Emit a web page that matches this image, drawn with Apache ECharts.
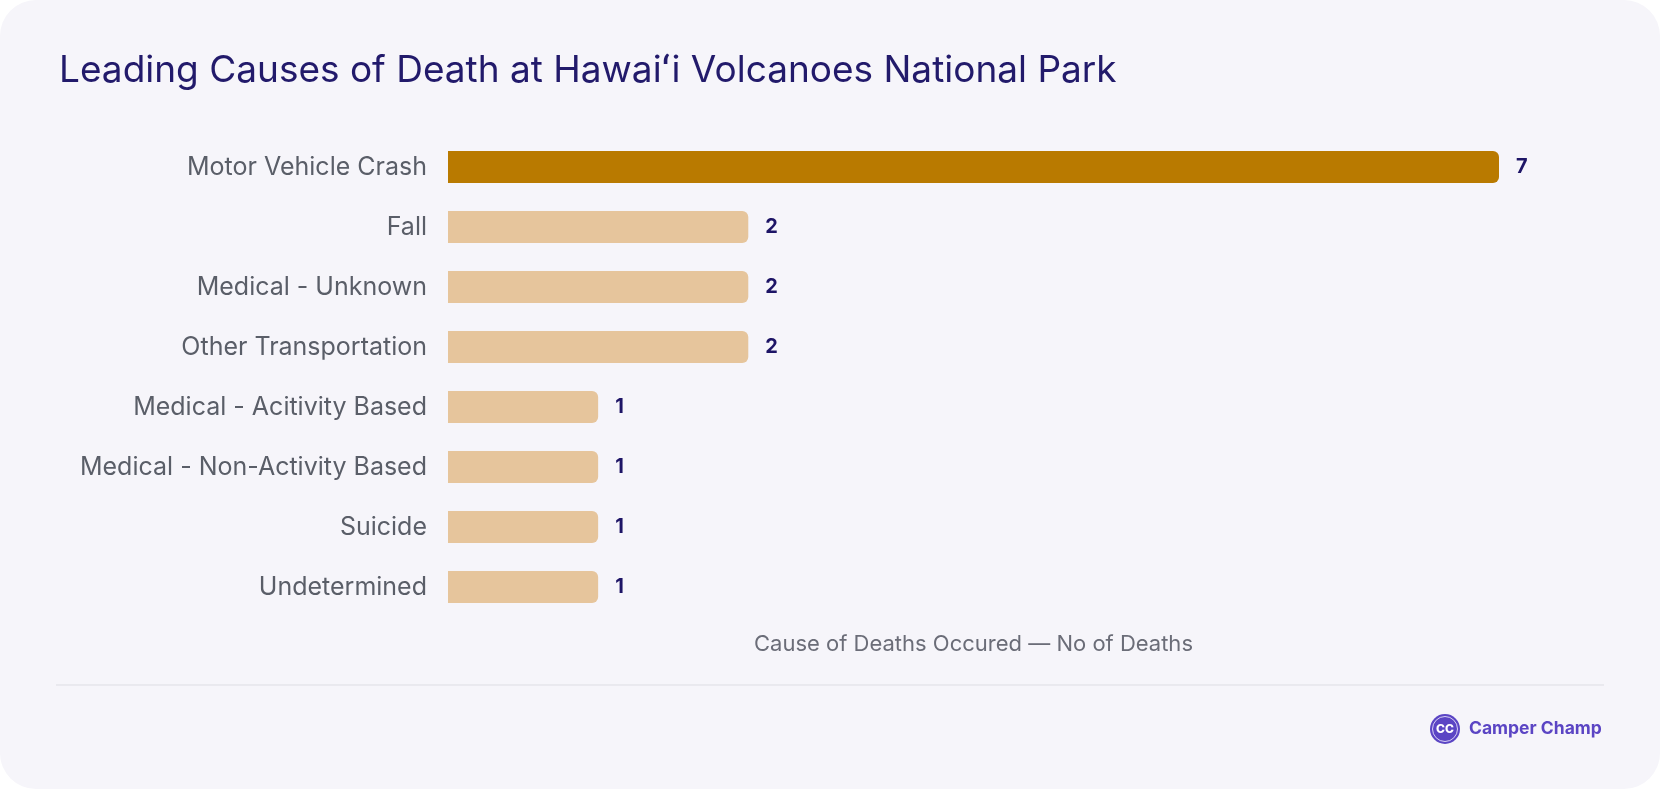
<!DOCTYPE html>
<html>
<head>
<meta charset="utf-8">
<script src="https://cdn.jsdelivr.net/npm/echarts@6/dist/echarts.min.js"></script>
<style>
  html, body { margin:0; padding:0; background:#ffffff; }
  #card { position:absolute; left:0; top:0; width:1660px; height:789px; background:#f6f5fa; border-radius:36px; overflow:hidden; }
  #chart { width:1660px; height:789px; }
</style>
</head>
<body>
<div id="card"><div id="chart"></div></div>
<script>
const categories = [
  "Motor Vehicle Crash",
  "Fall",
  "Medical - Unknown",
  "Other Transportation",
  "Medical - Acitivity Based",
  "Medical - Non-Activity Based",
  "Suicide",
  "Undetermined"
];
const deaths = [7, 2, 2, 2, 1, 1, 1, 1];
const titleText = "Leading Causes of Death at Hawaiʻi Volcanoes National Park";
const axisTitle = "Cause of Deaths Occured — No of Deaths";
const brandText = "Camper Champ";

const chart = echarts.init(document.getElementById('chart'), null, { renderer: 'canvas' });
const maxVal = Math.max(...deaths);

chart.setOption({
  backgroundColor: 'transparent',
  animation: false,
  title: {
    text: titleText,
    left: 54,
    top: 47,
    textStyle: { fontFamily: 'Inter', fontSize: 37, fontWeight: 400, color: '#221a6b' }
  },
  grid: { left: 448, top: 137, width: 1051, height: 480, containLabel: false },
  xAxis: {
    type: 'value',
    min: 0,
    max: 7,
    interval: 1,
    axisLabel: { show: false },
    axisLine: { show: false },
    axisTick: { show: false },
    splitLine: { show: false },
    name: axisTitle,
    nameLocation: 'middle',
    nameGap: 16,
    nameTextStyle: { fontFamily: 'Inter', fontSize: 22, color: '#6b6d78' }
  },
  yAxis: {
    type: 'category',
    data: categories,
    inverse: true,
    axisLine: { show: false },
    axisTick: { show: false },
    axisLabel: { fontFamily: 'Inter', fontSize: 25, color: '#5a5e68', margin: 21 }
  },
  series: [{
    type: 'bar',
    data: deaths.map(v => ({
      value: v,
      itemStyle: { color: v === maxVal ? '#b97a00' : '#e6c59c' }
    })),
    barWidth: 32,
    itemStyle: { borderRadius: [0, 6, 6, 0] },
    label: {
      show: true,
      position: 'right',
      distance: 17,
      fontFamily: 'Inter',
      fontSize: 20,
      fontWeight: 700,
      color: '#1e1566'
    }
  }],
  graphic: [
    { type: 'line', shape: { x1: 56, y1: 685, x2: 1604, y2: 685 }, style: { stroke: '#dddde3', lineWidth: 1 } },
    { type: 'circle', shape: { cx: 1445, cy: 729, r: 15 }, style: { fill: '#5b45c4' } },
    { type: 'circle', shape: { cx: 1445, cy: 729, r: 12.5 }, style: { fill: 'none', stroke: '#d8d0f5', lineWidth: 1 } },
    { type: 'text', x: 1445, y: 729, style: { text: 'CC', fontFamily: 'Inter', fontSize: 12, fontWeight: 800, fill: '#ffffff', align: 'center', verticalAlign: 'middle' } },
    { type: 'text', x: 1469, y: 729, style: { text: brandText, fontFamily: 'Inter', fontSize: 17.5, fontWeight: 700, fill: '#5b45c4', align: 'left', verticalAlign: 'middle' } }
  ]
});
</script>
</body>
</html>
